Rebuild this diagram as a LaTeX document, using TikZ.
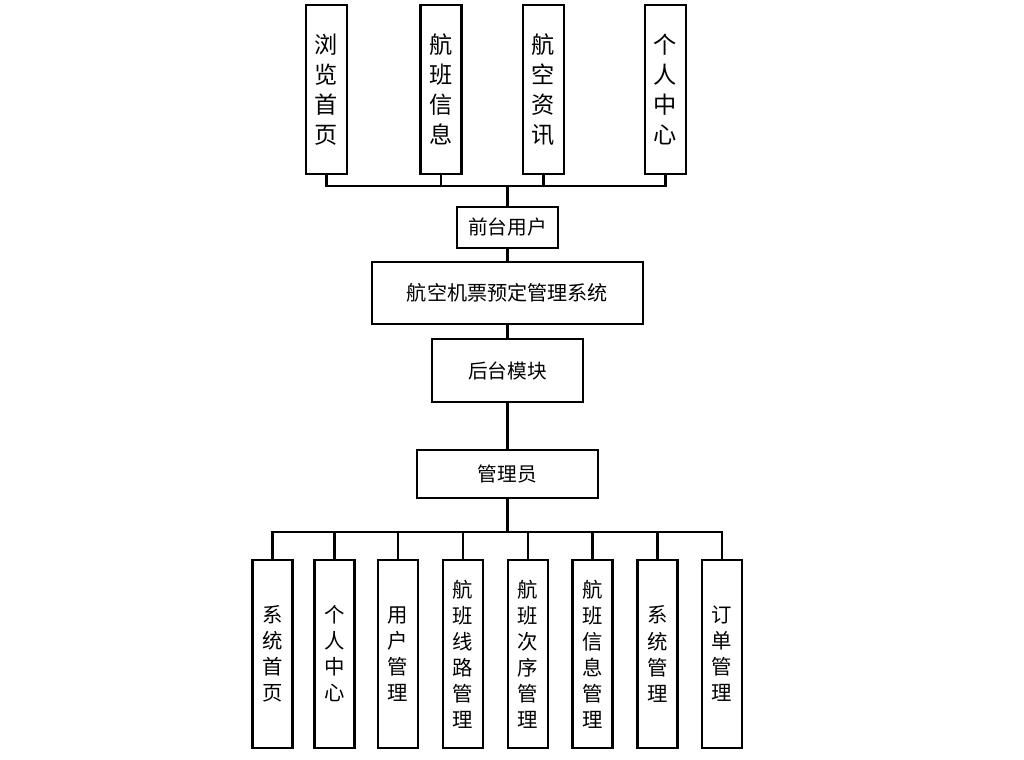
\documentclass[tikz,border=0pt]{standalone}
\usepackage{fontspec}
\setmainfont{Noto Sans CJK SC}
\usetikzlibrary{calc}

\begin{document}
\begin{tikzpicture}[x=0.025cm,y=-0.025cm,line width=1.5pt,
  topbox/.style={draw,inner sep=0pt,minimum width=1.025cm,minimum height=4.225cm,align=center,font=\fontsize{16.5pt}{21.3pt}\selectfont},
  subbox/.style={draw,inner sep=0pt,minimum width=1cm,minimum height=4.7cm,align=center,font=\fontsize{14.5pt}{18.5pt}\selectfont},
  hbox/.style={draw,inner sep=0pt,font=\fontsize{14pt}{16pt}\selectfont}]
\useasboundingbox (0,0) rectangle (1024,760);
% front side
\node[topbox] (f1) at (326.5,89.5) {浏\\览\\首\\页};
\node[topbox] (f2) at (441,89.5) {航\\班\\信\\息};
\node[topbox] (f3) at (543.5,89.5) {航\\空\\资\\讯};
\node[topbox] (f4) at (665.5,89.5) {个\\人\\中\\心};
\node[hbox,minimum width=2.525cm,minimum height=1.025cm] (user) at (507.5,227.5) {前台用户};
\coordinate (tbus) at (507.5,186);
\foreach \i in {1,...,4} \draw (f\i.south) |- (tbus);
\draw (tbus) -- (user.north);
% system
\node[hbox,minimum width=6.775cm,minimum height=1.55cm,font=\fontsize{14.3pt}{17pt}\selectfont] (sys) at (507.5,293) {航空机票预定管理系统};
\node[hbox,minimum width=3.775cm,minimum height=1.575cm] (back) at (507.5,370.5) {后台模块};
\node[hbox,minimum width=4.525cm,minimum height=1.2cm] (admin) at (507.5,474) {管理员};
\draw (user) -- (sys); \draw (sys) -- (back); \draw (back) -- (admin);
% back side
\node[subbox] (m1) at (272.5,654) {系\\统\\首\\页};
\node[subbox] (m2) at (334.5,654) {个\\人\\中\\心};
\node[subbox] (m3) at (398,654) {用\\户\\管\\理};
\node[subbox] (m4) at (463,654) {航\\班\\线\\路\\管\\理};
\node[subbox] (m5) at (528,654) {航\\班\\次\\序\\管\\理};
\node[subbox] (m6) at (592.5,654) {航\\班\\信\\息\\管\\理};
\node[subbox] (m7) at (657.5,654) {系\\统\\管\\理};
\node[subbox] (m8) at (722,654) {订\\单\\管\\理};
\coordinate (bbus) at (507.5,532);
\draw (admin) -- (bbus);
\foreach \i in {1,...,8} \draw (bbus) -| (m\i.north);
\end{tikzpicture}
\end{document}
